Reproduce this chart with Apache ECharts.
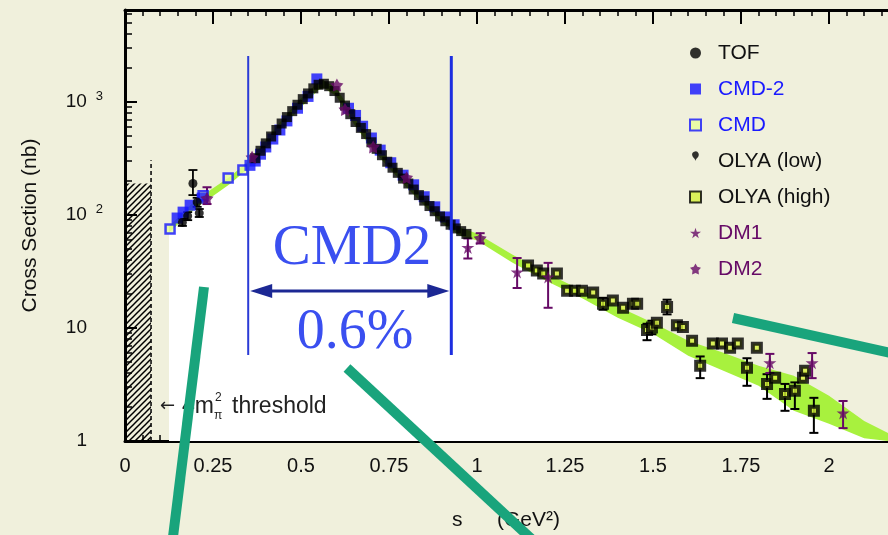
<!DOCTYPE html>
<html><head><meta charset="utf-8">
<script src="https://cdn.jsdelivr.net/npm/echarts@6/dist/echarts.min.js"></script>
<style>html,body{margin:0;padding:0;background:#f0f0dc}#c{width:888px;height:535px}</style>
</head><body><div id="c"></div>
<script>
// ---------------- data ----------------
const xTicks = [0, 0.25, 0.5, 0.75, 1, 1.25, 1.5, 1.75, 2];
const xTickLabels = ['0', '0.25', '0.5', '0.75', '1', '1.25', '1.5', '1.75', '2'];
const xMinorTicks = [0.05,0.1,0.15,0.2,0.3,0.35,0.4,0.45,0.55,0.6,0.65,0.7,0.8,0.85,0.9,0.95,1.05,1.1,1.15,1.2,1.3,1.35,1.4,1.45,1.55,1.6,1.65,1.7,1.8,1.85,1.9,1.95,2.05,2.1,2.15];
const yTickValues = [1, 10, 100, 1000];
const yTickBase = ['1', '10', '10', '10'];
const yTickSup = ['', '', '2', '3'];
const yMinorTicks = [2,3,4,5,6,7,8,9,20,30,40,50,60,70,80,90,200,300,400,500,600,700,800,900,2000,3000,4000,5000,6000];
const xMax = 2.1676;
const yMax = 6516;

// [s, sigma, low, high]
const tof = [[0.163,86,80,93],[0.178,98,90,106],[0.193,190,150,250],[0.205,130,118,142],[0.211,104,96,113]];
const cmd2 = [[0.148,94],[0.165,106],[0.185,122],[0.219,141],
  [0.355,275],[0.37,300],[0.385,345],[0.40,400],[0.42,470],[0.44,565],[0.46,680],[0.49,880],[0.52,1120],[0.545,1600],
  [0.635,880],[0.655,760],[0.675,610],[0.70,480],[0.725,375],[0.755,290],[0.79,225],[0.82,185],[0.85,145],[0.88,118],[0.91,96],[0.935,82]];
const cmd = [[0.128,75],[0.222,148],[0.293,212],[0.335,250]];
const olyaLow = [[0.37,318],[0.385,370],[0.40,430],[0.415,495],[0.43,565],[0.445,645],[0.46,735],[0.475,830],[0.49,945],[0.505,1060],[0.52,1190],[0.535,1320],[0.55,1420],[0.565,1450],[0.58,1380],[0.595,1250],[0.61,1090],[0.625,930],[0.64,780],[0.655,665],[0.67,590],[0.685,520],[0.70,440],[0.715,385],[0.73,338],[0.745,296],[0.76,262],[0.775,236],[0.79,210],[0.805,190],[0.82,168],[0.835,150],[0.85,134],[0.865,120],[0.88,108],[0.895,97],[0.91,88],[0.925,82],[0.94,76],[0.955,72],[0.97,68]];
const olyaHigh = [[1.145,35.7],[1.170,32.2],[1.188,30.3],[1.227,30.3],[1.256,21.4],[1.278,21.4],[1.298,21.4],[1.330,20.6],[1.358,16.4,14.5,18.5],[1.386,17.5],[1.415,15.1],[1.443,16.4],[1.455,16.4],[1.483,9.6,7.8,10.9],[1.497,10.1,8.8,11.6],[1.511,11.1],[1.540,15.3,13.2,17.8],[1.568,10.6],[1.585,10.2],[1.611,7.71],[1.634,4.63,3.6,5.6],[1.670,7.3],[1.696,7.3],[1.719,6.7],[1.741,7.3],[1.767,4.44,3.08,5.4],[1.795,6.7],[1.824,3.2,2.36,3.9],[1.847,3.62],[1.875,2.61,1.85,3.2],[1.903,2.78,1.92,3.3],[1.926,3.62],[1.932,4.18],[1.957,1.85,1.18,2.41]];
const dm1 = [[0.974,51.6,41.2,62],[1.114,31.3,22.6,41.6],[1.202,28.3,15.1,37.7],[1.832,4.92,4.0,5.9],[1.952,4.92,3.6,6.0],[2.040,1.77,1.30,2.26]];
const dm2 = [[0.233,140,125,176],[0.361,324],[0.602,1410],[0.625,860],[0.705,400],[0.80,214],[1.009,62,56,69]];

// fit band (s, lower edge, upper edge)
const bandS    = [0.125, 0.2, 0.3, 0.35, 0.40, 0.45, 0.50, 0.55, 0.565, 0.60, 0.65, 0.70, 0.80, 0.90, 0.95, 1.0, 1.1, 1.2, 1.3, 1.4, 1.5, 1.6, 1.7, 1.8, 1.9, 2.0, 2.1, 2.1676];
const bandLow  = [70, 114, 190, 259, 390, 610, 900, 1280, 1330, 1130, 640, 390, 175, 85, 66, 59.5, 38, 25.8, 18.2, 12.3, 8.9, 5.68, 4.18, 3.08, 1.85, 1.42, 1.06, 1.0];
const bandHigh = [79, 135, 220, 299, 460, 720, 1080, 1500, 1550, 1330, 770, 470, 205, 99, 78, 68.7, 44.7, 30.3, 21.4, 15.5, 11.1, 7.71, 6.04, 4.63, 3.77, 2.51, 1.5, 1.18];

// threshold hatch and CMD2 range annotation
const thresholdS = 0.074;
const hatchTop = 190;
const thresholdLineTop = 305;
const cmdRangeS = [0.350, 0.927];
const cmdLineSigma = [5.77, 2553];
const cmdArrowSigma = 21.2;

// ---------------- chart ----------------
const L = v => Math.log10(v);
const FONT = '"Liberation Sans", Arial, sans-serif';
const chart = echarts.init(document.getElementById('c'), null, {renderer: 'canvas'});

const pc = document.createElement('canvas');
pc.width = 6; pc.height = 6;
const g = pc.getContext('2d');
g.strokeStyle = '#000'; g.lineWidth = 1.5;
g.beginPath(); g.moveTo(-1, 7); g.lineTo(7, -1); g.stroke();
g.beginPath(); g.moveTo(-1, 1); g.lineTo(1, -1); g.stroke();
g.beginPath(); g.moveTo(5, 7); g.lineTo(7, 5); g.stroke();
const hatchPattern = {image: pc, repeat: 'repeat'};

function pts(arr) { return arr.map(d => [d[0], L(d[1])]); }
function errSeries(arr, color, w) {
  return {
    type: 'custom', z: 4, silent: true, clip: true,
    data: arr.filter(d => d.length >= 4).map(d => [d[0], L(d[1]), L(d[2]), L(d[3])]),
    encode: {x: 0, y: [1, 2, 3]},
    renderItem(params, api) {
      const x = api.value(0);
      const a = api.coord([x, api.value(2)]), b = api.coord([x, api.value(3)]);
      const cw = 4.5, st = {stroke: color, lineWidth: w};
      return {type: 'group', children: [
        {type: 'line', shape: {x1: a[0], y1: a[1], x2: b[0], y2: b[1]}, style: st},
        {type: 'line', shape: {x1: a[0]-cw, y1: a[1], x2: a[0]+cw, y2: a[1]}, style: st},
        {type: 'line', shape: {x1: b[0]-cw, y1: b[1], x2: b[0]+cw, y2: b[1]}, style: st}
      ]};
    }
  };
}
const scatterBase = {type: 'scatter', z: 5, animation: false};
const starPath = 'path://M50,0 L61,35 L98,35 L68,57 L79,91 L50,70 L21,91 L32,57 L2,35 L39,35 Z';
const fatStarPath = 'path://M50,0 L66,28 L98,36 L76,62 L80,96 L50,82 L20,96 L24,62 L2,36 L34,28 Z';
const purple = '#660a66';

const axisTickStyle = {color: '#000', width: 2};
const option = {
  backgroundColor: '#f0f0dc',
  animation: false,
  grid: {left: 125, right: 0, top: 10, bottom: 94, containLabel: false},
  xAxis: [
    {type: 'value', min: 0, max: xMax, position: 'bottom', splitLine: {show: false},
      axisLine: {show: true, onZero: false, lineStyle: {color: '#000', width: 3}},
      axisTick: {show: true, inside: true, length: 12, lineStyle: axisTickStyle, customValues: xTicks},
      axisLabel: {customValues: xTicks, formatter: v => xTickLabels[xTicks.indexOf(v)], margin: 15, fontSize: 20, color: '#111', fontFamily: FONT}},
    {type: 'value', min: 0, max: xMax, position: 'bottom', splitLine: {show: false},
      axisLine: {show: false, onZero: false}, axisLabel: {show: false},
      axisTick: {show: true, inside: true, length: 6, lineStyle: {color: '#000', width: 1.5}, customValues: xMinorTicks}},
    {type: 'value', min: 0, max: xMax, position: 'top', splitLine: {show: false},
      axisLine: {show: true, onZero: false, lineStyle: {color: '#000', width: 3}},
      axisTick: {show: true, inside: true, length: 14, lineStyle: axisTickStyle, customValues: xTicks},
      axisLabel: {show: false}},
    {type: 'value', min: 0, max: xMax, position: 'top', splitLine: {show: false},
      axisLine: {show: false, onZero: false}, axisLabel: {show: false},
      axisTick: {show: true, inside: true, length: 6, lineStyle: {color: '#000', width: 1.5}, customValues: xMinorTicks}}
  ],
  yAxis: [
    {type: 'value', min: 0, max: L(yMax), position: 'left', splitLine: {show: false},
      axisLine: {show: true, onZero: false, lineStyle: {color: '#000', width: 3}},
      axisTick: {show: true, inside: true, length: 12, lineStyle: axisTickStyle, customValues: yTickValues.map(L)},
      axisLabel: {customValues: yTickValues.map(L), margin: 22, fontSize: 19, color: '#111', fontFamily: FONT, lineHeight: 24,
        formatter: v => { const i = Math.round(v); return yTickSup[i] ? yTickBase[i] + '{sup|' + yTickSup[i] + '}' : yTickBase[i] + '{sp|}'; },
        rich: {sup: {fontSize: 13, verticalAlign: 'top', padding: [0, 0, 0, 9], color: '#111', fontFamily: FONT, lineHeight: 24},
               sp: {width: 16}}},
      name: 'Cross Section (nb)', nameLocation: 'middle', nameGap: 84, nameRotate: 90,
      nameTextStyle: {fontSize: 21, color: '#111', fontFamily: FONT}},
    {type: 'value', min: 0, max: L(yMax), position: 'left', splitLine: {show: false},
      axisLine: {show: false, onZero: false}, axisLabel: {show: false},
      axisTick: {show: true, inside: true, length: 7, lineStyle: {color: '#000', width: 1.5}, customValues: yMinorTicks.map(L)}}
  ],
  legend: {
    orient: 'vertical', left: 684, top: 37, itemWidth: 11, itemHeight: 11, itemGap: 14, selectedMode: false,
    textStyle: {fontSize: 21, fontFamily: FONT, lineHeight: 22, padding: [0, 0, 0, 12]},
    data: [
      {name: 'TOF', textStyle: {color: '#111'}},
      {name: 'CMD-2', textStyle: {color: '#1a1aff'}},
      {name: 'CMD', textStyle: {color: '#1a1aff'}},
      {name: 'OLYA (low)', icon: 'pin', textStyle: {color: '#111'}},
      {name: 'OLYA (high)', textStyle: {color: '#111'}},
      {name: 'DM1', textStyle: {color: purple}},
      {name: 'DM2', textStyle: {color: purple}}
    ]
  },
  series: [
    {type: 'line', name: '_band', z: 1, silent: true, symbol: 'none', lineStyle: {width: 0},
      areaStyle: {color: '#a8f13e', opacity: 1, origin: 'start'},
      data: bandS.map((s, i) => [s, L(bandHigh[i])])},
    {type: 'line', name: '_white', z: 1, silent: true, symbol: 'none', lineStyle: {width: 0},
      areaStyle: {color: '#ffffff', opacity: 1, origin: 'start'},
      data: bandS.map((s, i) => [s, L(bandLow[i])])},
    {type: 'custom', name: '_hatch', z: 2, silent: true,
      data: [[0, thresholdS, L(hatchTop), L(thresholdLineTop)]], encode: {x: [0, 1], y: [2, 3]},
      renderItem(params, api) {
        const a = api.coord([api.value(0), api.value(2)]);
        const b = api.coord([api.value(1), 0]);
        const t = api.coord([api.value(1), api.value(3)]);
        return {type: 'group', children: [
          {type: 'rect', shape: {x: a[0], y: a[1], width: b[0]-a[0], height: b[1]-a[1]}, style: {fill: hatchPattern}},
          {type: 'line', shape: {x1: b[0], y1: b[1], x2: t[0], y2: t[1]}, style: {stroke: '#111', lineWidth: 1.6, lineDash: [4, 3]}}
        ]};
      }},
    errSeries(tof, '#000', 1.8),
    errSeries(olyaHigh, '#000', 2),
    errSeries(dm1, purple, 2),
    errSeries(dm2, purple, 2),
    Object.assign({}, scatterBase, {name: 'CMD', symbol: 'rect', symbolSize: 9,
      itemStyle: {color: '#e8ff9a', borderColor: '#1414ff', borderWidth: 2.5}, data: pts(cmd)}),
    Object.assign({}, scatterBase, {name: 'CMD-2', symbol: 'rect', symbolSize: 11,
      itemStyle: {color: '#1414ff'}, data: pts(cmd2)}),
    Object.assign({}, scatterBase, {name: 'TOF', symbol: 'circle', symbolSize: 9,
      itemStyle: {color: '#000'}, data: pts(tof)}),
    Object.assign({}, scatterBase, {name: 'OLYA (low)', symbol: 'rect', symbolSize: 10,
      itemStyle: {color: '#000'}, data: pts(olyaLow)}),
    Object.assign({}, scatterBase, {name: 'OLYA (high)', symbol: 'rect', symbolSize: 8,
      itemStyle: {color: '#d4f03a', borderColor: '#000', borderWidth: 4}, data: pts(olyaHigh)}),
    Object.assign({}, scatterBase, {name: 'DM1', symbol: starPath, symbolSize: 13,
      itemStyle: {color: purple}, data: pts(dm1)}),
    Object.assign({}, scatterBase, {name: 'DM2', symbol: fatStarPath, symbolSize: 13,
      itemStyle: {color: purple}, data: pts(dm2)}),
    {type: 'custom', name: '_cmd2range', z: 8, silent: true,
      data: [[cmdRangeS[0], cmdRangeS[1], L(cmdLineSigma[0]), L(cmdLineSigma[1]), L(cmdArrowSigma)]],
      encode: {x: [0, 1], y: [2, 3]},
      renderItem(params, api) {
        const l0 = api.coord([api.value(0), api.value(2)]), l1 = api.coord([api.value(0), api.value(3)]);
        const r0 = api.coord([api.value(1), api.value(2)]), r1 = api.coord([api.value(1), api.value(3)]);
        const ay = api.coord([api.value(0), api.value(4)])[1];
        const xl = l0[0] + 2, xr = r0[0] - 2, hw = 22, hh = 7, navy = '#1c2894';
        return {type: 'group', children: [
          {type: 'line', shape: {x1: l0[0], y1: l0[1], x2: l1[0], y2: l1[1]}, style: {stroke: '#2b3bd6', lineWidth: 2}},
          {type: 'line', shape: {x1: r0[0], y1: r0[1], x2: r1[0], y2: r1[1]}, style: {stroke: '#1d2ee0', lineWidth: 3}},
          {type: 'line', shape: {x1: xl + 10, y1: ay, x2: xr - 10, y2: ay}, style: {stroke: navy, lineWidth: 3}},
          {type: 'polygon', shape: {points: [[xl, ay], [xl + hw, ay - hh], [xl + hw, ay + hh]]}, style: {fill: navy}},
          {type: 'polygon', shape: {points: [[xr, ay], [xr - hw, ay - hh], [xr - hw, ay + hh]]}, style: {fill: navy}}
        ]};
      }}
  ],
  graphic: [
    {type: 'text', z: 50, x: 352, y: 249, style: {text: 'CMD2', font: '57px "Liberation Serif", "Times New Roman", serif', fill: '#3a4ff0', align: 'center', verticalAlign: 'middle'}},
    {type: 'text', z: 50, x: 355, y: 333, style: {text: '0.6%', font: '56px "Liberation Serif", "Times New Roman", serif', fill: '#3a4ff0', align: 'center', verticalAlign: 'middle'}},
    {type: 'text', z: 50, x: 160, y: 406, style: {text: '←', font: '18px "DejaVu Sans", sans-serif', fill: '#222', align: 'left', verticalAlign: 'middle'}},
    {type: 'text', z: 50, x: 182, y: 407, style: {text: '4m', font: '23px ' + FONT, fill: '#222', align: 'left', verticalAlign: 'middle'}},
    {type: 'text', z: 50, x: 215, y: 398, style: {text: '2', font: '12px ' + FONT, fill: '#222', align: 'left', verticalAlign: 'middle'}},
    {type: 'text', z: 50, x: 214, y: 416, style: {text: 'π', font: '12px ' + FONT, fill: '#222', align: 'left', verticalAlign: 'middle'}},
    {type: 'text', z: 50, x: 232, y: 407, style: {text: 'threshold', font: '23px ' + FONT, fill: '#222', align: 'left', verticalAlign: 'middle'}},
    {type: 'text', z: 50, x: 452, y: 520, style: {text: 's', font: '21px ' + FONT, fill: '#111', align: 'left', verticalAlign: 'middle'}},
    {type: 'text', z: 50, x: 497, y: 520, style: {text: '(GeV²)', font: '21px ' + FONT, fill: '#111', align: 'left', verticalAlign: 'middle'}},
    {type: 'line', z: 60, shape: {x1: 204, y1: 287, x2: 172, y2: 545}, style: {stroke: '#19a47c', lineWidth: 10}},
    {type: 'line', z: 60, shape: {x1: 347, y1: 368, x2: 538, y2: 545}, style: {stroke: '#19a47c', lineWidth: 10}},
    {type: 'line', z: 60, shape: {x1: 733, y1: 318, x2: 900, y2: 355}, style: {stroke: '#19a47c', lineWidth: 10}}
  ]
};
chart.setOption(option);
</script></body></html>
